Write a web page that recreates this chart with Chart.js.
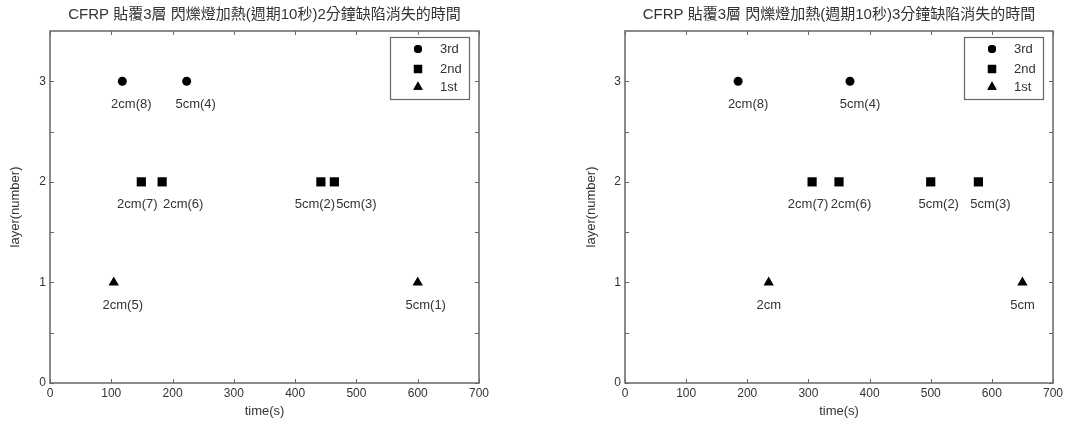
<!DOCTYPE html>
<html>
<head>
<meta charset="utf-8">
<script src="https://cdn.jsdelivr.net/npm/chart.js@4"></script>
<style>
  html, body { margin: 0; padding: 0; background: #fff; }
  #wrap { position: relative; width: 1090px; height: 424px; }
  canvas { position: absolute; top: 0; }
  #c2 { left: 0; }
  #c3 { left: 545px; }
</style>
</head>
<body>
<div id="wrap">
  <canvas id="c2" width="545" height="424"></canvas>
  <canvas id="c3" width="545" height="424"></canvas>
</div>
<script>
// ── DATA ──────────────────────────────────────────────────────
const LAYER_NAMES = ['3rd', '2nd', '1st'];
const LAYER_VALUES = [3, 2, 1];
const X_TICKS = [0, 100, 200, 300, 400, 500, 600, 700];
const Y_TICKS = [0, 1, 2, 3];

// 2 minutes
const T2_3RD = [118, 223];
const L2_3RD = ['2cm(8)', '5cm(4)'];
const T2_2ND = [149, 183, 442, 464];
const L2_2ND = ['2cm(7)', '2cm(6)', '5cm(2)', '5cm(3)'];
const T2_1ST = [104, 600];
const L2_1ST = ['2cm(5)', '5cm(1)'];

// 3 minutes
const T3_3RD = [185, 368];
const L3_3RD = ['2cm(8)', '5cm(4)'];
const T3_2ND = [306, 350, 500, 578];
const L3_2ND = ['2cm(7)', '2cm(6)', '5cm(2)', '5cm(3)'];
const T3_1ST = [235, 650];
const L3_1ST = ['2cm', '5cm'];

const TITLE_2 = 'CFRP 貼覆3層 閃爍燈加熱(週期10秒)2分鐘缺陷消失的時間';
const TITLE_3 = 'CFRP 貼覆3層 閃爍燈加熱(週期10秒)3分鐘缺陷消失的時間';

// ── STYLE ─────────────────────────────────────────────────────
const FONT = '"Liberation Sans", Arial, sans-serif';
const CJK  = '"Liberation Sans", "Noto Sans CJK TC", sans-serif';
const INK  = '#333';
const AXIS = '#666';
const MARKERS = [
  { pointStyle: 'circle',   pointRadius: 4.5 },
  { pointStyle: 'rect',     pointRadius: 6.5 },
  { pointStyle: 'triangle', pointRadius: 6 },
];

// label offsets (px from point), per dataset
const DX_2 = [[9, 9], [-4, 21, -6, 22], [9, 8]];
const DX_3 = [[10, 10], [-4, 12, 8, 12], [0, 0]];

// ── PLUGINS ───────────────────────────────────────────────────
const framePlugin = {
  id: 'frame',
  afterDraw(chart) {
    const o = chart.options.plugins.frame;
    const { ctx, chartArea: a, scales } = chart;
    ctx.save();
    ctx.strokeStyle = AXIS;
    ctx.lineWidth = 1.5;
    ctx.strokeRect(a.left, a.top, a.right - a.left, a.bottom - a.top);

    // inward ticks on all four sides
    ctx.lineWidth = 1;
    ctx.beginPath();
    scales.x.ticks.forEach(t => {
      const x = Math.round(scales.x.getPixelForValue(t.value)) + 0.5;
      ctx.moveTo(x, a.bottom); ctx.lineTo(x, a.bottom - 4);
      ctx.moveTo(x, a.top);    ctx.lineTo(x, a.top + 4);
    });
    scales.y.ticks.forEach(t => {
      const y = Math.round(scales.y.getPixelForValue(t.value)) + 0.5;
      ctx.moveTo(a.left, y);  ctx.lineTo(a.left + 4, y);
      ctx.moveTo(a.right, y); ctx.lineTo(a.right - 4, y);
    });
    ctx.stroke();

    // title + axis titles
    ctx.fillStyle = INK;
    ctx.textAlign = 'center';
    ctx.textBaseline = 'middle';
    ctx.font = '15px ' + CJK;
    ctx.fillText(o.title, (a.left + a.right) / 2, 15);
    ctx.font = '13px ' + FONT;
    ctx.fillText('time(s)', (a.left + a.right) / 2, 411);
    ctx.translate(o.yTitleX, (a.top + a.bottom) / 2);
    ctx.rotate(-Math.PI / 2);
    ctx.fillText('layer(number)', 0, 0);
    ctx.restore();
  },
};

const pointLabels = {
  id: 'pointLabels',
  afterDatasetsDraw(chart) {
    const dx = chart.options.plugins.pointLabels.dx;
    const { ctx } = chart;
    ctx.save();
    ctx.fillStyle = INK;
    ctx.font = '13px ' + FONT;
    ctx.textAlign = 'center';
    ctx.textBaseline = 'middle';
    chart.data.datasets.forEach((ds, di) => {
      chart.getDatasetMeta(di).data.forEach((pt, i) => {
        ctx.fillText(ds.labels[i], pt.x + dx[di][i], pt.y + 23);
      });
    });
    ctx.restore();
  },
};

const boxLegend = {
  id: 'boxLegend',
  afterDraw(chart) {
    const { ctx, chartArea: a } = chart;
    const left = Math.round(a.right - 89), top = a.top + 6, w = 79, h = 62;
    ctx.save();
    ctx.fillStyle = '#fff';
    ctx.fillRect(left, top, w, h);
    ctx.strokeStyle = AXIS;
    ctx.lineWidth = 1.2;
    ctx.strokeRect(left + 0.5, top + 0.5, w, h);
    const rows = [12, 32, 50];
    chart.data.datasets.forEach((ds, i) => {
      const y = top + rows[i];
      ctx.fillStyle = '#000';
      Chart.helpers.drawPoint(ctx, {
        pointStyle: ds.pointStyle, radius: ds.pointRadius * 0.9, borderWidth: 0,
      }, left + 28, y);
      ctx.fill();
      ctx.fillStyle = INK;
      ctx.font = '13px ' + FONT;
      ctx.textAlign = 'left';
      ctx.textBaseline = 'middle';
      ctx.fillText(ds.label, left + 50, y);
    });
    ctx.restore();
  },
};

// ── BUILD ─────────────────────────────────────────────────────
function makeDatasets(times, labels) {
  return LAYER_NAMES.map((name, i) => ({
    label: name,
    labels: labels[i],
    data: times[i].map(t => ({ x: t, y: LAYER_VALUES[i] })),
    backgroundColor: '#000',
    borderColor: '#000',
    borderWidth: 0,
    pointStyle: MARKERS[i].pointStyle,
    pointRadius: MARKERS[i].pointRadius,
  }));
}

function makeChart(id, times, labels, title, dx, yWidth, padRight, yTitleX) {
  return new Chart(document.getElementById(id), {
    type: 'scatter',
    data: { datasets: makeDatasets(times, labels) },
    options: {
      responsive: false,
      animation: false,
      devicePixelRatio: 1,
      layout: { padding: { left: 0, top: 31, right: padRight, bottom: 0 } },
      plugins: {
        legend: { display: false },
        tooltip: { enabled: false },
        frame: { title, yTitleX },
        pointLabels: { dx },
      },
      scales: {
        x: {
          type: 'linear', min: X_TICKS[0], max: X_TICKS[X_TICKS.length - 1],
          afterBuildTicks: s => { s.ticks = X_TICKS.map(v => ({ value: v })); },
          afterFit: s => { s.height = 41; },
          grid: { display: false, drawTicks: false }, border: { display: false },
          ticks: { color: INK, font: { family: FONT, size: 12 }, padding: 3, maxRotation: 0 },
        },
        y: {
          type: 'linear', min: 0, max: 3.5,
          afterBuildTicks: s => {
            s.ticks = [0, 0.5, 1, 1.5, 2, 2.5, 3].map(v => ({ value: v }));
          },
          afterFit: s => { s.width = yWidth; },
          grid: { display: false, drawTicks: false }, border: { display: false },
          ticks: {
            color: INK, font: { family: FONT, size: 12 }, padding: 4,
            callback: v => Y_TICKS.includes(v) ? v : '',
          },
        },
      },
    },
    plugins: [framePlugin, pointLabels, boxLegend],
  });
}

makeChart('c2', [T2_3RD, T2_2ND, T2_1ST], [L2_3RD, L2_2ND, L2_1ST], TITLE_2, DX_2, 50, 66, 15);
makeChart('c3', [T3_3RD, T3_2ND, T3_1ST], [L3_3RD, L3_2ND, L3_1ST], TITLE_3, DX_3, 80, 37, 46);
</script>
</body>
</html>
